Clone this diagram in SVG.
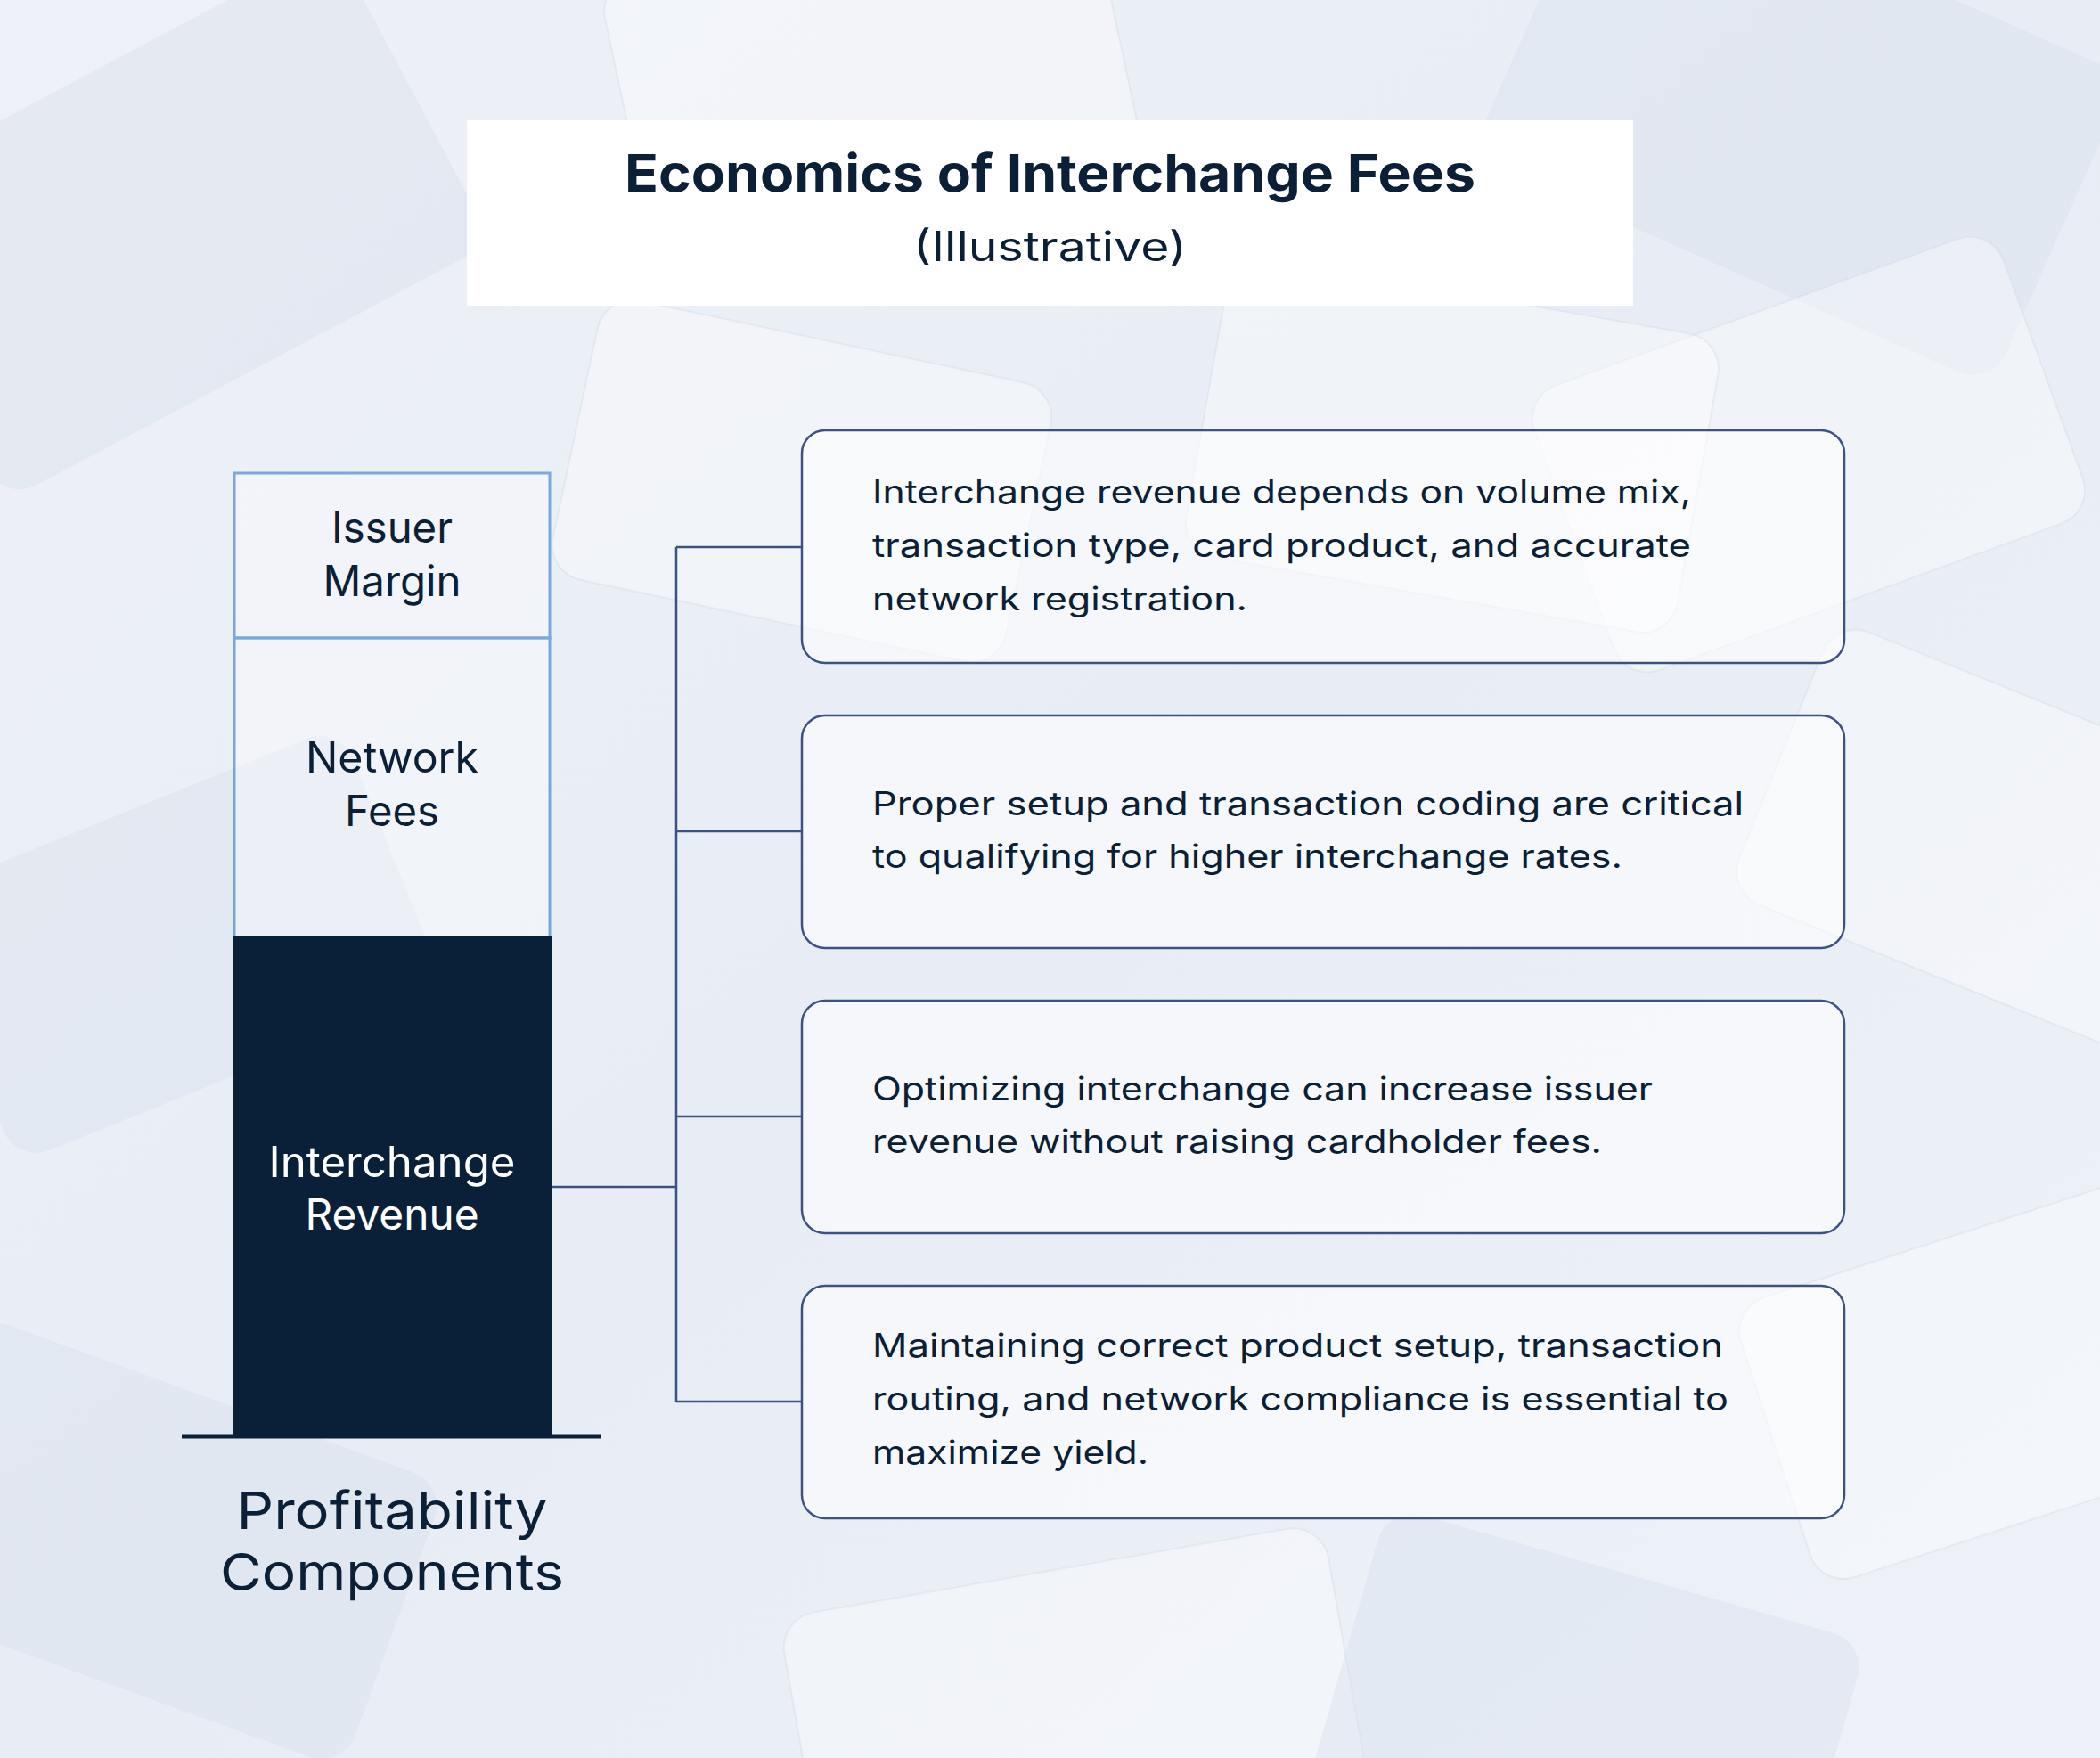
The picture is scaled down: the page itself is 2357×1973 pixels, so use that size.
<svg xmlns="http://www.w3.org/2000/svg" width="2357" height="1973" viewBox="0 0 2357 1973">
<defs>
<style>
.t{font-family:Inter,"Open Sans","Liberation Sans",sans-serif;fill:#0b1f36}
.title{font-size:58px;font-weight:700}
.sub{font-size:46px;font-weight:400}
.lbl{font-size:48px;font-weight:400;text-anchor:middle}
.wlbl{fill:#ffffff}
.foot{font-size:58px;font-weight:400;text-anchor:middle}
.body{font-size:37px;font-weight:400}
.box{fill:#ffffff;fill-opacity:0.55;stroke:#3b5283;stroke-width:2.5}
.seg{fill:#ffffff;fill-opacity:0.35;stroke:#7ba7d9;stroke-width:3}
.conn{fill:none;stroke:#3b5283;stroke-width:2.5}
.card{fill:#ffffff;fill-opacity:0.35;stroke:#c9d3e3;stroke-opacity:0.3;stroke-width:2}
.cardd{fill:#d6deea;fill-opacity:0.4}
</style>
<linearGradient id="bg" x1="0" y1="0" x2="1" y2="1">
<stop offset="0" stop-color="#eef1f7"/>
<stop offset="0.5" stop-color="#e8edf5"/>
<stop offset="1" stop-color="#eef2f8"/>
</linearGradient>
</defs>
<rect width="2357" height="1973" fill="url(#bg)"/>
<g id="background-cards">
<rect class="cardd" x="-120" y="60" width="620" height="380" rx="40" transform="rotate(-28 190 250)"/>
<rect class="card" x="700" y="-80" width="560" height="340" rx="40" transform="rotate(-12 980 90)"/>
<rect class="cardd" x="1700" y="-60" width="640" height="380" rx="40" transform="rotate(24 2020 130)"/>
<rect class="card" x="1750" y="340" width="560" height="340" rx="40" transform="rotate(-20 2030 510)"/>
<rect class="card" x="1980" y="780" width="520" height="330" rx="40" transform="rotate(22 2240 945)"/>
<rect class="cardd" x="-60" y="900" width="520" height="320" rx="40" transform="rotate(-22 200 1060)"/>
<rect class="card" x="1980" y="1380" width="520" height="330" rx="40" transform="rotate(-18 2240 1545)"/>
<rect class="cardd" x="-100" y="1560" width="560" height="340" rx="40" transform="rotate(20 180 1730)"/>
<rect class="card" x="900" y="1760" width="620" height="360" rx="40" transform="rotate(-10 1210 1940)"/>
<rect class="cardd" x="1500" y="1760" width="560" height="340" rx="40" transform="rotate(16 1780 1930)"/>
<rect class="card" x="640" y="380" width="520" height="320" rx="40" transform="rotate(12 900 540)"/>
<rect class="card" x="1350" y="330" width="560" height="340" rx="40" transform="rotate(10 1630 500)"/>
</g>
<g id="title">
<rect x="524" y="135" width="1309" height="208" fill="#ffffff"/>
<text class="t title" x="701" y="215" textLength="955" lengthAdjust="spacingAndGlyphs">Economics of Interchange Fees</text>
<text class="t sub" x="1025" y="293" textLength="307" lengthAdjust="spacingAndGlyphs">(Illustrative)</text>
</g>
<g id="connectors">
<line class="conn" x1="620" y1="1332" x2="759" y2="1332"/>
<line class="conn" x1="759" y1="614" x2="759" y2="1573"/>
<line class="conn" x1="759" y1="614" x2="900" y2="614"/>
<line class="conn" x1="759" y1="933" x2="900" y2="933"/>
<line class="conn" x1="759" y1="1253" x2="900" y2="1253"/>
<line class="conn" x1="759" y1="1573" x2="900" y2="1573"/>
</g>
<g id="issuer-margin">
<rect class="seg" x="263" y="531" width="354" height="185"/>
<text class="t lbl" x="440" y="609" textLength="136" lengthAdjust="spacingAndGlyphs">Issuer</text>
<text class="t lbl" x="440" y="669" textLength="155" lengthAdjust="spacingAndGlyphs">Margin</text>
</g>
<g id="network-fees">
<rect class="seg" x="263" y="716" width="354" height="336"/>
<text class="t lbl" x="440" y="867" textLength="194" lengthAdjust="spacingAndGlyphs">Network</text>
<text class="t lbl" x="440" y="927" textLength="106" lengthAdjust="spacingAndGlyphs">Fees</text>
</g>
<g id="interchange-revenue">
<rect x="261" y="1051" width="359" height="561" fill="#0a1f38"/>
<text class="t lbl wlbl" x="440" y="1321" textLength="277" lengthAdjust="spacingAndGlyphs">Interchange</text>
<text class="t lbl wlbl" x="440" y="1380" textLength="195" lengthAdjust="spacingAndGlyphs">Revenue</text>
</g>
<g id="baseline">
<line x1="204" y1="1612" x2="675" y2="1612" stroke="#0a1f38" stroke-width="5"/>
</g>
<g id="profitability-label">
<text class="t foot" x="440" y="1716" textLength="349" lengthAdjust="spacingAndGlyphs">Profitability</text>
<text class="t foot" x="440" y="1785" textLength="386" lengthAdjust="spacingAndGlyphs">Components</text>
</g>
<g id="box1">
<rect class="box" x="900" y="483" width="1170" height="261" rx="26"/>
<text class="t body" x="979" y="565" textLength="919" lengthAdjust="spacingAndGlyphs">Interchange revenue depends on volume mix,</text>
<text class="t body" x="979" y="625" textLength="919" lengthAdjust="spacingAndGlyphs">transaction type, card product, and accurate</text>
<text class="t body" x="979" y="685" textLength="421" lengthAdjust="spacingAndGlyphs">network registration.</text>
</g>
<g id="box2">
<rect class="box" x="900" y="803" width="1170" height="261" rx="26"/>
<text class="t body" x="979" y="915" textLength="978" lengthAdjust="spacingAndGlyphs">Proper setup and transaction coding are critical</text>
<text class="t body" x="979" y="974" textLength="842" lengthAdjust="spacingAndGlyphs">to qualifying for higher interchange rates.</text>
</g>
<g id="box3">
<rect class="box" x="900" y="1123" width="1170" height="261" rx="26"/>
<text class="t body" x="979" y="1235" textLength="876" lengthAdjust="spacingAndGlyphs">Optimizing interchange can increase issuer</text>
<text class="t body" x="979" y="1294" textLength="819" lengthAdjust="spacingAndGlyphs">revenue without raising cardholder fees.</text>
</g>
<g id="box4">
<rect class="box" x="900" y="1443" width="1170" height="261" rx="26"/>
<text class="t body" x="979" y="1523" textLength="955" lengthAdjust="spacingAndGlyphs">Maintaining correct product setup, transaction</text>
<text class="t body" x="979" y="1583" textLength="961" lengthAdjust="spacingAndGlyphs">routing, and network compliance is essential to</text>
<text class="t body" x="979" y="1643" textLength="310" lengthAdjust="spacingAndGlyphs">maximize yield.</text>
</g>
</svg>
